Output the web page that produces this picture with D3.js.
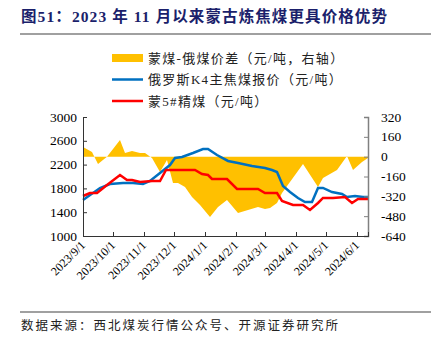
<!DOCTYPE html>
<html>
<head>
<meta charset="utf-8">
<script src="https://cdn.jsdelivr.net/npm/d3@7"></script>
<style>
  body { margin: 0; background: #fff; }
  svg { display: block; }
  text { font-family: "Liberation Serif", "Noto Sans CJK SC", serif; }
</style>
</head>
<body>
<svg id="chart" width="436" height="346"></svg>
<script>
// 蒙煤-俄煤价差 (right axis)
var diffDates = ["2023-09-01","2023-09-10","2023-09-16","2023-09-25","2023-10-08","2023-10-13","2023-10-20","2023-10-28","2023-11-02","2023-11-09","2023-11-17","2023-11-24","2023-11-30","2023-12-05","2023-12-12","2023-12-19","2023-12-27","2024-01-06","2024-01-14","2024-01-23","2024-02-03","2024-02-23","2024-03-01","2024-03-06","2024-03-13","2024-03-18","2024-04-08","2024-04-23","2024-04-28","2024-05-12","2024-05-22","2024-05-28","2024-06-06","2024-06-12"];
var diffValues = [78,38,-59,0,135,30,46,30,30,-10,-123,-27,-212,-212,-245,-325,-390,-487,-406,-350,-454,-406,-422,-414,-374,-293,-59,-245,-172,-107,5,-107,-43,-10];

// 俄罗斯K4主焦煤报价
var ruDates = ["2023-09-01","2023-09-18","2023-09-28","2023-10-11","2023-10-21","2023-10-31","2023-11-07","2023-11-17","2023-11-27","2023-12-02","2023-12-09","2023-12-20","2023-12-30","2024-01-04","2024-01-13","2024-01-24","2024-02-03","2024-02-17","2024-03-01","2024-03-08","2024-03-13","2024-03-19","2024-03-26","2024-04-03","2024-04-10","2024-04-17","2024-04-23","2024-04-28","2024-05-07","2024-05-17","2024-05-22","2024-05-30","2024-06-07","2024-06-12"];
var ruValues = [1605,1807,1874,1890,1890,1874,1924,2059,2193,2311,2328,2395,2462,2462,2361,2261,2227,2176,2143,2109,2076,1840,1739,1639,1571,1571,1807,1807,1739,1706,1655,1672,1655,1655];

// 蒙5#精煤
var mnDates = ["2023-09-01","2023-09-08","2023-09-15","2023-09-25","2023-10-08","2023-10-15","2023-10-20","2023-10-28","2023-11-09","2023-11-17","2023-11-23","2023-12-22","2023-12-29","2024-01-04","2024-01-08","2024-01-23","2024-02-02","2024-02-23","2024-03-01","2024-03-13","2024-03-18","2024-03-29","2024-04-08","2024-04-15","2024-04-23","2024-04-28","2024-05-08","2024-05-20","2024-05-27","2024-06-02","2024-06-12"];
var mnValues = [1672,1723,1723,1857,2025,1941,1941,1907,1924,1924,2109,2109,2042,2025,1958,1958,1790,1790,1723,1723,1588,1521,1521,1437,1555,1639,1639,1655,1555,1622,1622];

var xTickLabels = ["2023/9/1","2023/10/1","2023/11/1","2023/12/1","2024/1/1","2024/2/1","2024/3/1","2024/4/1","2024/5/1","2024/6/1"];
var leftTicks = [1000,1400,1800,2200,2600,3000];
var rightTicks = [-640,-480,-320,-160,0,160,320];
var legendLabels = ["蒙煤-俄煤价差（元/吨，右轴）","俄罗斯K4主焦煤报价（元/吨）","蒙5#精煤（元/吨）"];

var parse = d3.timeParse("%Y-%m-%d");
var parseTick = d3.timeParse("%Y/%m/%d");

var svg = d3.select("#chart");
var L = 83, R = 368, T = 117, B = 236;

var x = d3.scaleTime()
    .domain([parse("2023-09-01"), parse("2024-06-12")])
    .range([L, R]);
var yL = d3.scaleLinear().domain([1000, 3000]).range([B, T]);
var yR = d3.scaleLinear().domain([-640, 320]).range([B, T]);

// title
svg.append("text")
    .attr("x", 21).attr("y", 22)
    .attr("font-size", 15.5).attr("font-weight", "bold")
    .attr("fill", "#1b1f6b")
    .attr("letter-spacing", 1.1)
    .text("图51：2023 年 11 月以来蒙古炼焦煤更具价格优势");
svg.append("line").attr("x1", 20).attr("x2", 431).attr("y1", 34).attr("y2", 34)
    .attr("stroke", "#808080").attr("stroke-width", 1.5);

// gold area
var diffData = diffDates.map(function(d, i) { return {date: parse(d), v: diffValues[i]}; });
svg.append("path")
    .datum(diffData)
    .attr("fill", "#FFC000")
    .attr("d", d3.area()
        .x(function(d) { return x(d.date); })
        .y0(yR(0))
        .y1(function(d) { return yR(d.v); }));

var line = function(dates, vals) {
  var data = dates.map(function(d, i) { return {date: parse(d), v: vals[i]}; });
  return d3.line().x(function(d) { return x(d.date); }).y(function(d) { return yL(d.v); })(data);
};
svg.append("path").attr("d", line(ruDates, ruValues))
    .attr("fill", "none").attr("stroke", "#0070C0").attr("stroke-width", 2.5);
svg.append("path").attr("d", line(mnDates, mnValues))
    .attr("fill", "none").attr("stroke", "#FF0000").attr("stroke-width", 2.5);

// axes
var leftAxis = svg.append("g").attr("transform", "translate(" + L + ",0)")
    .call(d3.axisRight(yL).tickValues(leftTicks).tickSize(4).tickFormat(""));
leftAxis.select(".domain").attr("stroke", "#333");
leftAxis.selectAll(".tick line").attr("stroke", "#333");
svg.append("g").selectAll("text").data(leftTicks).enter().append("text")
    .attr("x", 77).attr("y", function(d) { return yL(d) + 4.5; })
    .attr("text-anchor", "end").attr("font-size", 13.5).attr("fill", "#000")
    .text(function(d) { return d; });

var rightAxis = svg.append("g").attr("transform", "translate(" + R + ",0)")
    .call(d3.axisLeft(yR).tickValues(rightTicks).tickSize(4).tickFormat(""));
rightAxis.select(".domain").attr("stroke", "#808080").attr("stroke-width", 1.5);
rightAxis.selectAll(".tick line").attr("stroke", "#808080");
svg.append("g").selectAll("text").data(rightTicks).enter().append("text")
    .attr("x", 381).attr("y", function(d) { return yR(d) + 4.5; })
    .attr("text-anchor", "start").attr("font-size", 13.5).attr("fill", "#000")
    .text(function(d) { return d; });

var tickDates = xTickLabels.map(function(s) { return parseTick(s); });
var bottomAxis = svg.append("g").attr("transform", "translate(0," + B + ")")
    .call(d3.axisTop(x).tickValues(tickDates).tickSize(4).tickFormat(""));
bottomAxis.select(".domain").attr("stroke", "#333");
bottomAxis.selectAll(".tick line").attr("stroke", "#333");
svg.append("g").selectAll("text").data(xTickLabels).enter().append("text")
    .attr("transform", function(d) { return "translate(" + (x(parseTick(d)) + 3) + "," + (B + 10) + ") rotate(-45)"; })
    .attr("text-anchor", "end").attr("font-size", 12).attr("fill", "#000")
    .text(function(d) { return d; });

// legend
var lg = svg.append("g");
var legendColors = ["#FFC000", "#0070C0", "#FF0000"];
var legendWidths = [8, 2.5, 2.5];
legendLabels.forEach(function(t, i) {
  var yy = 58 + i * 21.5;
  lg.append("line").attr("x1", 112).attr("x2", 143).attr("y1", yy).attr("y2", yy)
    .attr("stroke", legendColors[i]).attr("stroke-width", legendWidths[i]);
  lg.append("text").attr("x", 148).attr("y", yy + 4.5)
    .attr("font-size", 13).attr("fill", "#222").attr("letter-spacing", 1.3).text(t);
});

// source
svg.append("line").attr("x1", 20).attr("x2", 431).attr("y1", 312).attr("y2", 312)
    .attr("stroke", "#808080").attr("stroke-width", 1.5);
svg.append("text").attr("x", 21).attr("y", 330)
    .attr("font-size", 12.5).attr("fill", "#222").attr("letter-spacing", 2)
    .text("数据来源：西北煤炭行情公众号、开源证券研究所");
</script>
</body>
</html>
